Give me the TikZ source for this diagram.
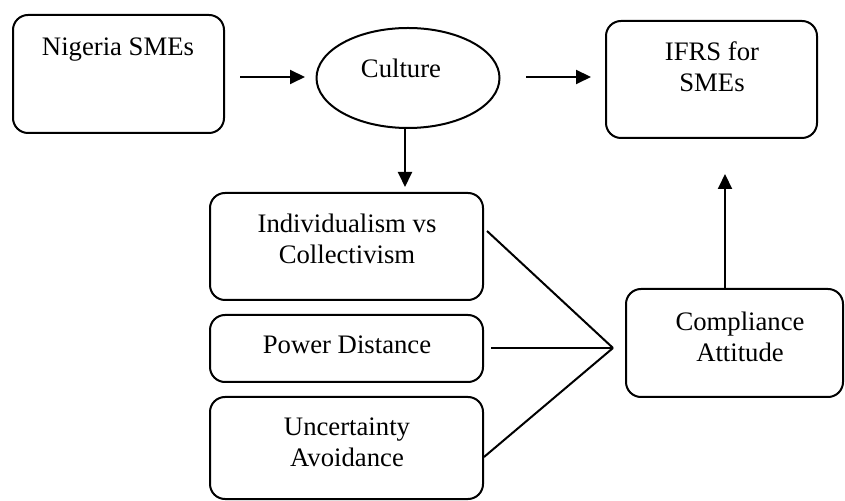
\documentclass[tikz,border=0pt]{standalone}
\usepackage{fontspec}
\setmainfont{Liberation Serif}
\usetikzlibrary{arrows.meta,shapes.geometric}
\begin{document}
\begin{tikzpicture}[x=0.5pt,y=-0.5pt,
  box/.style={draw, line width=1pt, rounded corners=7.5pt, inner sep=0pt},
  txt/.style={align=center, inner sep=0pt, font=\fontsize{13.35}{15.5}\selectfont},
  arr/.style={line width=1pt, -{Triangle[length=7.5pt,width=7pt]}},
  ln/.style={line width=1pt}]
\useasboundingbox (0,0) rectangle (845,501);
% boxes
\node[box, minimum width=105.5pt, minimum height=59pt] (nig) at (118.5,74) {};
\node[txt] (nigt) at (118,50) {Nigeria SMEs};
\node[draw, line width=1pt, ellipse, minimum width=91.5pt, minimum height=50pt, inner sep=0pt] (cul) at (408,78) {};
\node[txt] (cult) at (401,68) {Culture};
\node[box, minimum width=105.5pt, minimum height=58.5pt] (ifrs) at (711.5,79.5) {};
\node[txt] (ifrst) at (712,67) {IFRS for\\SMEs};
\node[box, minimum width=136.5pt, minimum height=53.5pt] (ind) at (346.5,246.5) {};
\node[txt] (indt) at (347,239) {Individualism vs\\Collectivism};
\node[box, minimum width=136.5pt, minimum height=33.5pt] (pow) at (346.5,348.5) {};
\node[txt] (powt) at (347,345) {Power Distance};
\node[box, minimum width=136.5pt, minimum height=51pt] (unc) at (346.5,448) {};
\node[txt] (unct) at (347,442) {Uncertainty\\Avoidance};
\node[box, minimum width=108.5pt, minimum height=54pt] (comp) at (734.5,343) {};
\node[txt] (compt) at (740,337) {Compliance\\Attitude};
% connector points
\coordinate (conv) at (613,348);
\coordinate (a1) at (487,231);
\coordinate (a2) at (491,348);
\coordinate (a3) at (484,457);
\coordinate (upbase) at (725,289);
\coordinate (uptip) at (725,174);
\coordinate (dnbase) at (405,128);
\coordinate (dntip) at (405,187);
\coordinate (h1s) at (240,77);
\coordinate (h1e) at (305,77);
\coordinate (h2s) at (526,77);
\coordinate (h2e) at (591,77);
% arrows
\draw[arr] (h1s) -- (h1e);
\draw[arr] (h2s) -- (h2e);
\draw[arr] (dnbase) -- (dntip);
\draw[arr] (upbase) -- (uptip);
\draw[ln] (a1) -- (conv);
\draw[ln] (a2) -- (conv);
\draw[ln] (a3) -- (conv);
\end{tikzpicture}
\end{document}
